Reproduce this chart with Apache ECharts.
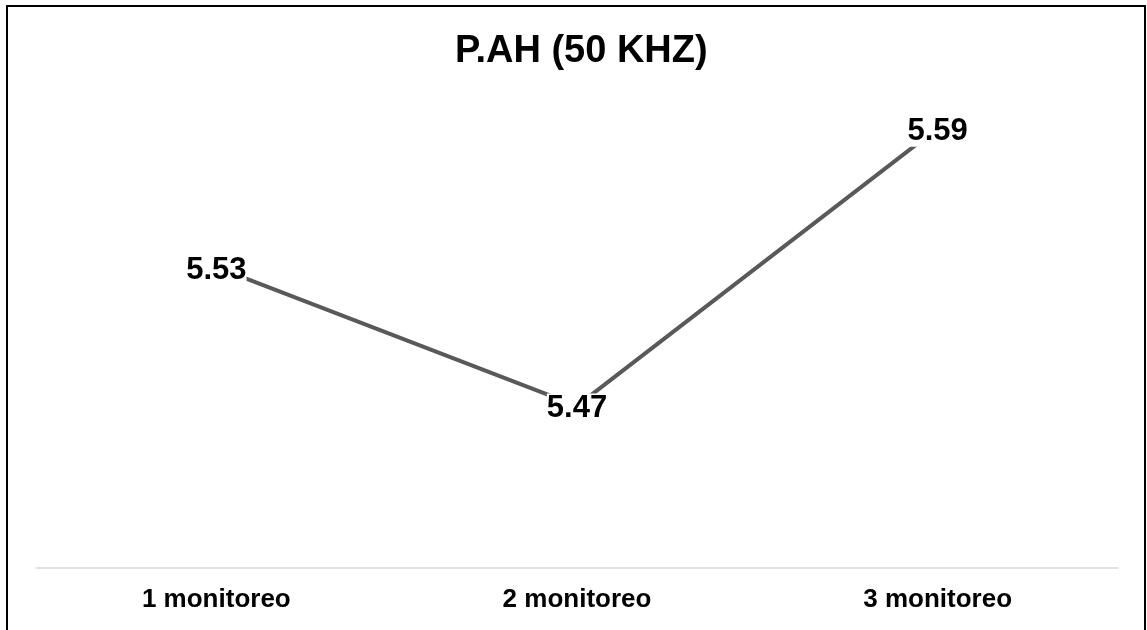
<!DOCTYPE html>
<html>
<head>
<meta charset="utf-8">
<script src="https://cdn.jsdelivr.net/npm/echarts@6/dist/echarts.min.js"></script>
<style>
  html, body { margin: 0; padding: 0; background: #fff; }
  #chart { width: 1147px; height: 630px; }
</style>
</head>
<body>
<div id="chart"></div>
<script>
// datos del grafico
const categories = ['1 monitoreo', '2 monitoreo', '3 monitoreo'];
const values = [5.53, 5.47, 5.59];
const chartTitle = 'P.AH (50 KHZ)';

const chart = echarts.init(document.getElementById('chart'));

chart.setOption({
    animation: false,
    backgroundColor: '#fff',
    title: {
        text: chartTitle,
        left: 450,
        top: 28,
        textStyle: {
            fontFamily: 'Liberation Sans',
            fontWeight: 'bold',
            fontSize: 38,
            color: '#000'
        }
    },
    // marco del grafico
    graphic: [{
        type: 'rect',
        shape: { x: 7, y: 6, width: 1138, height: 640 },
        style: { fill: 'none', stroke: '#000', lineWidth: 2 }
    }],
    grid: { left: 36, right: 29, top: 105, bottom: 62 },
    xAxis: {
        type: 'category',
        data: categories,
        boundaryGap: true,
        axisLine: { lineStyle: { color: '#d9d9d9', width: 1.5 } },
        axisTick: { show: false },
        axisLabel: {
            margin: 19,
            fontFamily: 'Liberation Sans',
            fontWeight: 'bold',
            fontSize: 26,
            color: '#000'
        }
    },
    yAxis: {
        type: 'value',
        min: 5.4,
        max: 5.6,
        show: false,
        splitLine: { show: false }
    },
    series: [{
        type: 'line',
        data: values,
        symbol: 'circle',
        symbolSize: 0,
        lineStyle: { color: '#595959', width: 4 },
        itemStyle: { color: '#595959' },
        label: {
            show: true,
            position: 'inside',
            offset: [0, 3],
            formatter: p => p.value.toFixed(2),
            fontFamily: 'Liberation Sans',
            fontWeight: 'bold',
            fontSize: 31,
            color: '#000',
            backgroundColor: '#fff',
            padding: 0
        }
    }]
});
</script>
</body>
</html>
